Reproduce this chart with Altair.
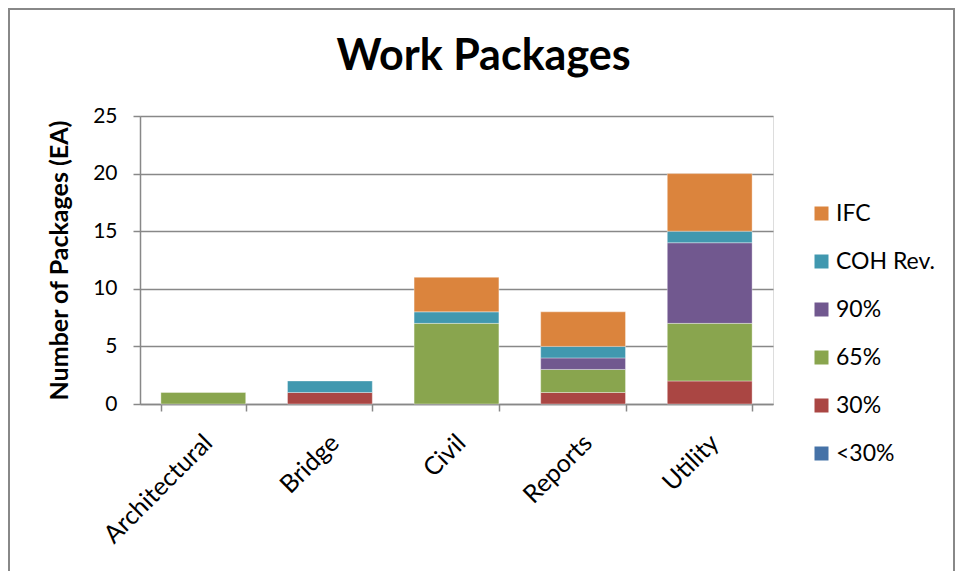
import altair as alt
import pandas as pd

categories = ["Architectural", "Bridge", "Civil", "Reports", "Utility"]
stages = ["<30%", "30%", "65%", "90%", "COH Rev.", "IFC"]
stage_colors = ["#4572A7", "#AA4643", "#89A54E", "#71588F", "#4198AF", "#DB843D"]

v_lt30 = [0, 0, 0, 0, 0]
v_30 = [0, 1, 0, 1, 2]
v_65 = [1, 0, 7, 2, 5]
v_90 = [0, 0, 0, 1, 7]
v_coh = [0, 1, 1, 1, 1]
v_ifc = [0, 0, 3, 3, 5]

series = [v_lt30, v_30, v_65, v_90, v_coh, v_ifc]
rows = []
for si, (stage, vals) in enumerate(zip(stages, series)):
    for cat, v in zip(categories, vals):
        if v > 0:
            rows.append({"Category": cat, "Stage": stage, "Order": si, "Value": v})
df = pd.DataFrame(rows)

legend_order = list(reversed(stages))
legend_colors = list(reversed(stage_colors))

FONT = "Lato"
W, H = 633, 288

bars = alt.Chart(df).mark_bar(stroke="white", strokeWidth=0.6, strokeOpacity=0.6).encode(
    x=alt.X("Category:N", sort=categories,
            scale=alt.Scale(paddingInner=0.33, paddingOuter=0.165),
            axis=alt.Axis(title=None, labelAngle=-45, labelFontSize=25, labelFont=FONT,
                          labelColor="black", tickBand="extent", tickSize=7,
                          tickColor="#888888", domainColor="#888888", tickWidth=1.5,
                          domainWidth=1.5, labelPadding=19, labelOffset=-4)),
    y=alt.Y("Value:Q", stack="zero",
            scale=alt.Scale(domain=[0, 25], nice=False),
            axis=alt.Axis(title="Number of Packages (EA)", values=[0, 5, 10, 15, 20, 25],
                          titleFont=FONT, titleFontSize=25, titleFontWeight="bold",
                          titleColor="black", titlePadding=20,
                          labelFont=FONT, labelFontSize=21, labelColor="black",
                          labelPadding=16, tickSize=7, tickColor="#888888",
                          domainColor="#888888", gridColor="#888888", tickWidth=1.5,
                          domainWidth=1.5, gridWidth=1.5)),
    color=alt.Color("Stage:N",
                    scale=alt.Scale(domain=legend_order, range=legend_colors),
                    legend=alt.Legend(title=None, orient="none", legendX=670, legendY=86,
                                      symbolType="square", symbolSize=196,
                                      symbolStrokeWidth=0, labelFont=FONT,
                                      labelFontSize=23, labelColor="black",
                                      rowPadding=24, labelOffset=3)),
    order=alt.Order("Order:Q", sort="ascending"),
)

frame = alt.Chart(pd.DataFrame({"a": [0]})).mark_rect(
    filled=False, stroke="#888888", strokeWidth=2, clip=False
).encode(
    x=alt.value(-131), x2=alt.value(814), y=alt.value(-107), y2=alt.value(500)
)

chart = alt.layer(bars, frame).properties(
    width=W, height=H,
    title=alt.TitleParams("Work Packages", font=FONT, fontSize=43, fontWeight="bold",
                          color="black", dx=27, offset=0, dy=71, frame="group"),
    autosize=alt.AutoSizeParams(type="none"),
    padding={"left": 132, "top": 108, "right": 182, "bottom": 167},
).configure_view(stroke=None).configure(background="white")

chart.save("out.html", embed_options={"renderer": "svg", "actions": False})
